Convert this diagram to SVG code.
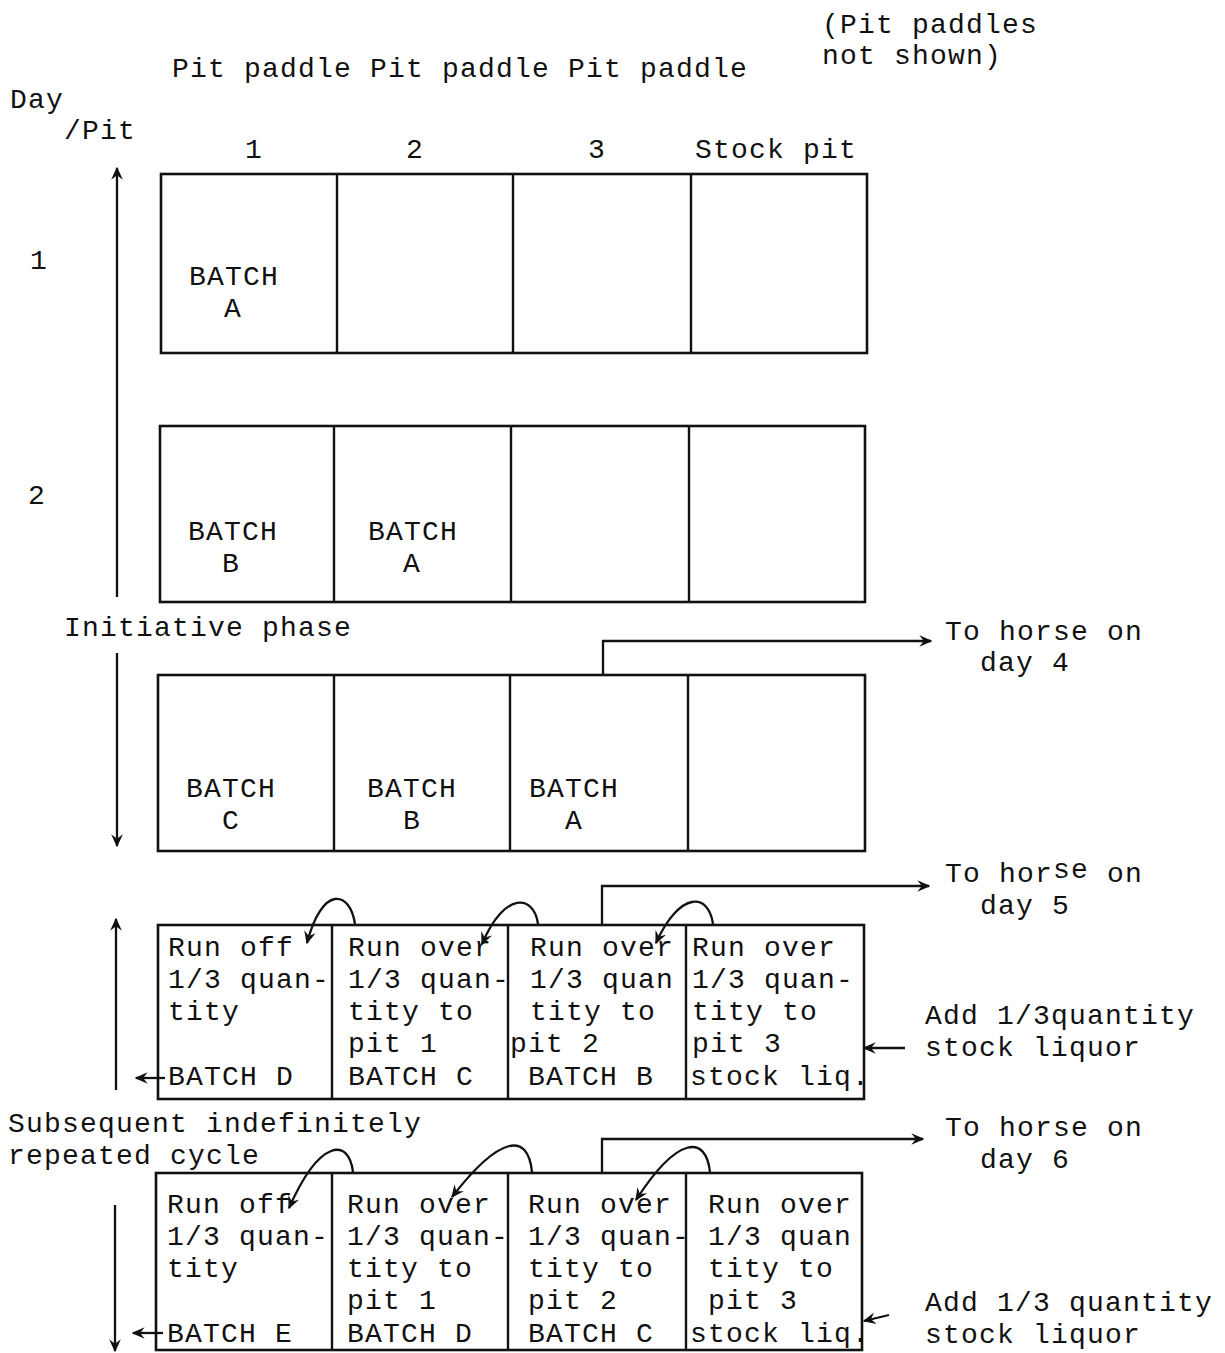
<svg xmlns="http://www.w3.org/2000/svg" width="1225" height="1353" viewBox="0 0 1225 1353">
<style>
  text { font-family: "Liberation Mono", "DejaVu Sans Mono", monospace; font-size: 28px; letter-spacing: 1.2px; fill: #111; }
  .box { fill: #fff; stroke: #111; stroke-width: 2.6; }
  .div { stroke: #111; stroke-width: 2.4; }
  .con { fill: none; stroke: #111; stroke-width: 2.3; }
</style>
<defs>
  <marker id="ah" viewBox="0 0 10 10" refX="9" refY="5" markerWidth="13" markerHeight="13" markerUnits="userSpaceOnUse" orient="auto">
    <path d="M0,0.5 L10,5 L0,9.5 L3.5,5 z" fill="#111"/>
  </marker>
</defs>
<rect width="1225" height="1353" fill="#fff"/>

<g id="header">
  <text x="822" y="33">(Pit paddles</text>
  <text x="822" y="64">not shown)</text>
  <text x="172" y="77">Pit paddle Pit paddle Pit paddle</text>
  <text x="10" y="108">Day</text>
  <text x="64" y="139">/Pit</text>
  <text x="245" y="158">1</text>
  <text x="406" y="158">2</text>
  <text x="588" y="158">3</text>
  <text x="695" y="158">Stock pit</text>
  <text x="30" y="269">1</text>
  <text x="28" y="504">2</text>
  <text x="64" y="636">Initiative phase</text>
  <text x="8" y="1132">Subsequent indefinitely</text>
  <text x="8" y="1164">repeated cycle</text>
</g>

<g id="day1">
  <rect class="box" x="161" y="174" width="706" height="179"/>
  <line class="div" x1="337" y1="174" x2="337" y2="353"/>
  <line class="div" x1="513" y1="174" x2="513" y2="353"/>
  <line class="div" x1="691" y1="174" x2="691" y2="353"/>
  <text x="189" y="285">BATCH</text>
  <text x="224" y="317">A</text>
</g>

<g id="day2">
  <rect class="box" x="160" y="426" width="705" height="176"/>
  <line class="div" x1="334" y1="426" x2="334" y2="602"/>
  <line class="div" x1="511" y1="426" x2="511" y2="602"/>
  <line class="div" x1="689" y1="426" x2="689" y2="602"/>
  <text x="188" y="540">BATCH</text>
  <text x="222" y="572">B</text>
  <text x="368" y="540">BATCH</text>
  <text x="403" y="572">A</text>
</g>

<g id="day3">
  <rect class="box" x="158" y="675" width="707" height="176"/>
  <line class="div" x1="334" y1="675" x2="334" y2="851"/>
  <line class="div" x1="510" y1="675" x2="510" y2="851"/>
  <line class="div" x1="688" y1="675" x2="688" y2="851"/>
  <text x="186" y="797">BATCH</text>
  <text x="222" y="829">C</text>
  <text x="367" y="797">BATCH</text>
  <text x="403" y="829">B</text>
  <text x="529" y="797">BATCH</text>
  <text x="565" y="829">A</text>
</g>

<g id="cycle1">
  <rect class="box" x="158" y="925" width="706" height="174"/>
  <line class="div" x1="332" y1="925" x2="332" y2="1099"/>
  <line class="div" x1="508" y1="925" x2="508" y2="1099"/>
  <line class="div" x1="686" y1="925" x2="686" y2="1099"/>
  <text x="168" y="956">Run off</text>
  <text x="168" y="988">1/3 quan-</text>
  <text x="168" y="1020">tity</text>
  <text x="168" y="1085">BATCH D</text>
  <text x="348" y="956">Run over</text>
  <text x="348" y="988">1/3 quan-</text>
  <text x="348" y="1020">tity to</text>
  <text x="348" y="1052">pit 1</text>
  <text x="348" y="1085">BATCH C</text>
  <text x="530" y="956">Run over</text>
  <text x="530" y="988">1/3 quan</text>
  <text x="530" y="1020">tity to</text>
  <text x="510" y="1052">pit 2</text>
  <text x="528" y="1085">BATCH B</text>
  <text x="692" y="956">Run over</text>
  <text x="692" y="988">1/3 quan-</text>
  <text x="692" y="1020">tity to</text>
  <text x="692" y="1052">pit 3</text>
  <text x="690" y="1085">stock liq.</text>
</g>

<g id="cycle2">
  <rect class="box" x="156" y="1173" width="706" height="177"/>
  <line class="div" x1="332" y1="1173" x2="332" y2="1350"/>
  <line class="div" x1="508" y1="1173" x2="508" y2="1350"/>
  <line class="div" x1="686" y1="1173" x2="686" y2="1350"/>
  <text x="167" y="1213">Run off</text>
  <text x="167" y="1245">1/3 quan-</text>
  <text x="167" y="1277">tity</text>
  <text x="167" y="1342">BATCH E</text>
  <text x="347" y="1213">Run over</text>
  <text x="347" y="1245">1/3 quan-</text>
  <text x="347" y="1277">tity to</text>
  <text x="347" y="1309">pit 1</text>
  <text x="347" y="1342">BATCH D</text>
  <text x="528" y="1213">Run over</text>
  <text x="528" y="1245">1/3 quan-</text>
  <text x="528" y="1277">tity to</text>
  <text x="528" y="1309">pit 2</text>
  <text x="528" y="1342">BATCH C</text>
  <text x="708" y="1213">Run over</text>
  <text x="708" y="1245">1/3 quan</text>
  <text x="708" y="1277">tity to</text>
  <text x="708" y="1309">pit 3</text>
  <text x="690" y="1342">stock liq.</text>
</g>

<g id="outputs">
  <text x="945" y="640">To horse on</text>
  <text x="980" y="671">day 4</text>
  <text x="945" y="882">To hor<tspan dy="-4">se</tspan><tspan dy="4"> on</tspan></text>
  <text x="980" y="914">day 5</text>
  <text x="945" y="1136">To horse on</text>
  <text x="980" y="1168">day 6</text>
  <text x="925" y="1024">Add 1/3quantity</text>
  <text x="925" y="1056">stock liquor</text>
  <text x="925" y="1311">Add 1/3 quantity</text>
  <text x="925" y="1343">stock liquor</text>
</g>

<g id="connectors">
  <line class="con" x1="117" y1="597" x2="117" y2="168" marker-end="url(#ah)"/>
  <line class="con" x1="117" y1="653" x2="117" y2="846" marker-end="url(#ah)"/>
  <line class="con" x1="116" y1="1090" x2="116" y2="919" marker-end="url(#ah)"/>
  <line class="con" x1="115" y1="1205" x2="115" y2="1351" marker-end="url(#ah)"/>
  <path class="con" d="M603 675 V641 H931" marker-end="url(#ah)"/>
  <path class="con" d="M602 925 V886 H929" marker-end="url(#ah)"/>
  <path class="con" d="M602 1173 V1139 H923" marker-end="url(#ah)"/>
  <line class="con" x1="165" y1="1078" x2="136" y2="1078" marker-end="url(#ah)"/>
  <line class="con" x1="163" y1="1333" x2="133" y2="1333" marker-end="url(#ah)"/>
  <line class="con" x1="905" y1="1048" x2="864" y2="1048" marker-end="url(#ah)"/>
  <line class="con" x1="889" y1="1315" x2="864" y2="1321" marker-end="url(#ah)"/>
  <path class="con" d="M355 924 C350 890, 322 885, 307 943" marker-end="url(#ah)"/>
  <path class="con" d="M538 924 C534 895, 505 890, 482 944" marker-end="url(#ah)"/>
  <path class="con" d="M713 924 C709 893, 680 890, 656 943" marker-end="url(#ah)"/>
  <path class="con" d="M353 1172 C349 1138, 320 1138, 289 1208" marker-end="url(#ah)"/>
  <path class="con" d="M532 1172 C528 1132, 500 1135, 452 1197" marker-end="url(#ah)"/>
  <path class="con" d="M710 1172 C706 1135, 678 1135, 636 1200" marker-end="url(#ah)"/>
</g>
</svg>
